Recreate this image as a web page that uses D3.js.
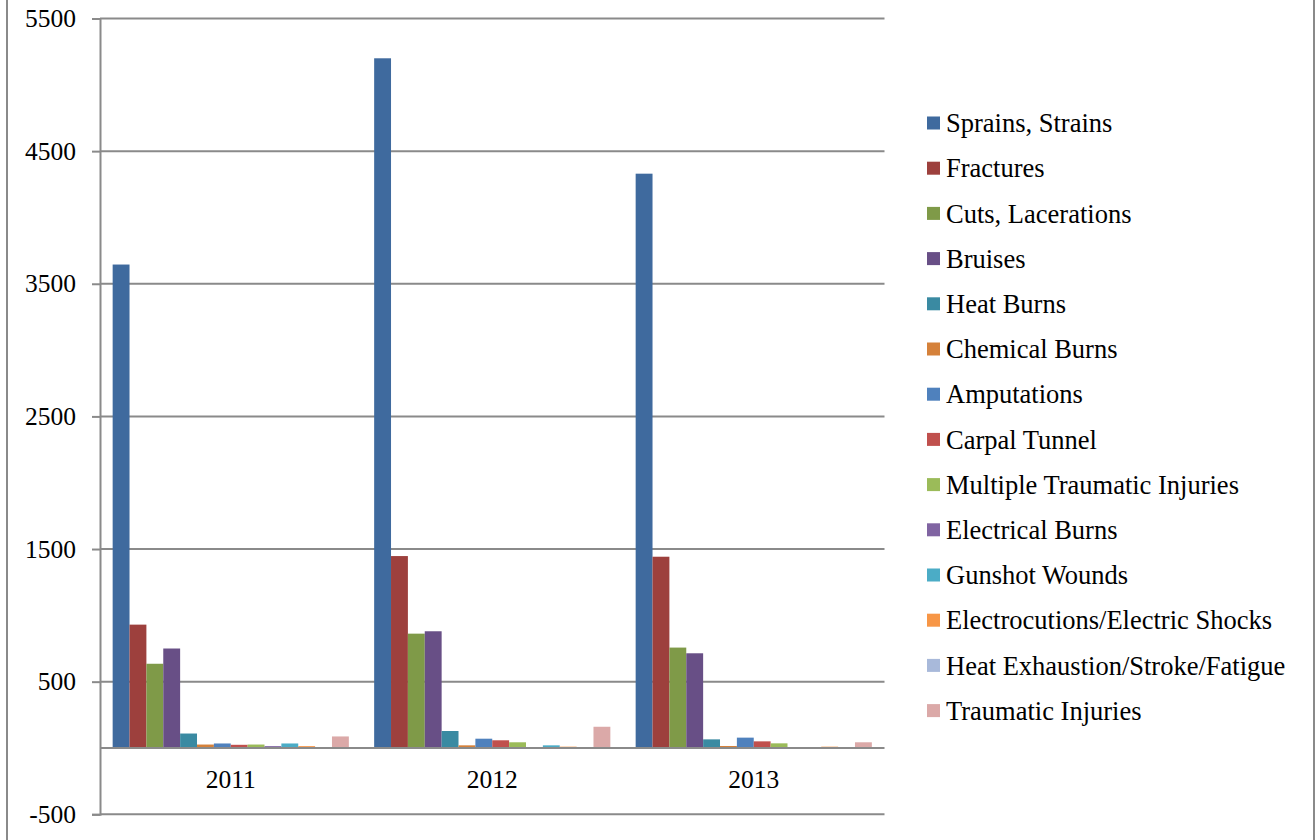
<!DOCTYPE html>
<html>
<head>
<meta charset="utf-8">
<script src="https://cdn.jsdelivr.net/npm/d3@7"></script>
<style>
  body { margin: 0; background: #fff; }
  text { font-family: "Liberation Serif", "Times New Roman", serif; fill: #000; }
</style>
</head>
<body>
<div id="chart"></div>
<script>
// data
const years = ["2011", "2012", "2013"];
const injuryTypes = [
  "Sprains, Strains", "Fractures", "Cuts, Lacerations", "Bruises", "Heat Burns",
  "Chemical Burns", "Amputations", "Carpal Tunnel", "Multiple Traumatic Injuries",
  "Electrical Burns", "Gunshot Wounds", "Electrocutions/Electric Shocks",
  "Heat Exhaustion/Stroke/Fatigue", "Traumatic Injuries"
];
const sprains = [3645, 5200, 4330];
const fractures = [930, 1447, 1442];
const cuts = [635, 862, 757];
const bruises = [750, 880, 714];
const heatBurns = [109, 128, 65];
const chemicalBurns = [26, 20, 15];
const amputations = [34, 70, 78];
const carpalTunnel = [24, 58, 50];
const multipleTraumatic = [26, 43, 35];
const electricalBurns = [14, 0, 2];
const gunshot = [34, 20, 3];
const electrocutions = [14, 10, 10];
const heatExhaustion = [2, 0, 0];
const traumatic = [87, 160, 43];
const yTicks = [5500, 4500, 3500, 2500, 1500, 500, -500];

const seriesValues = [sprains, fractures, cuts, bruises, heatBurns, chemicalBurns,
  amputations, carpalTunnel, multipleTraumatic, electricalBurns, gunshot,
  electrocutions, heatExhaustion, traumatic];

const colors = ["#3f6a9e", "#9d403d", "#7f9a48", "#684f86", "#3a8aa2", "#d5813a",
  "#4f81bd", "#c0504d", "#9bbb59", "#8064a2", "#4bacc6", "#f79646",
  "#a8b9da", "#dba9a8"];

const W = 1315, H = 840;
const plot = { left: 100, right: 884.5, top: 18.5, bottom: 814.3 };
const gridColor = "#8a8a8a";
const fontSize = 25.5;
const legendFontSize = 26.5;

const svg = d3.select("#chart").append("svg")
  .attr("width", W)
  .attr("height", H);

// chart area side borders
svg.append("line").attr("x1", 7).attr("x2", 7).attr("y1", 0).attr("y2", H)
  .attr("stroke", gridColor).attr("stroke-width", 2);
svg.append("line").attr("x1", 1314).attr("x2", 1314).attr("y1", 0).attr("y2", H)
  .attr("stroke", gridColor).attr("stroke-width", 2);

const y = d3.scaleLinear()
  .domain([-500, 5500])
  .range([plot.bottom, plot.top]);

const x0 = d3.scaleBand()
  .domain(years)
  .range([plot.left, plot.right])
  .padding(0);

// Excel gap width 150% -> half a gap on each side of a cluster
const x1 = d3.scaleBand()
  .domain(injuryTypes)
  .range([0, x0.bandwidth()])
  .paddingInner(0)
  .paddingOuter(0.75);

// gridlines
svg.append("g")
  .selectAll("line")
  .data(yTicks)
  .join("line")
  .attr("x1", plot.left)
  .attr("x2", plot.right)
  .attr("y1", (d) => y(d))
  .attr("y2", (d) => y(d))
  .attr("stroke", gridColor)
  .attr("stroke-width", 2);

// bars
const rows = years.map((yr, i) => ({ year: yr, vals: seriesValues.map((s) => s[i]) }));

svg.append("g")
  .selectAll("g")
  .data(rows)
  .join("g")
  .attr("transform", (d) => `translate(${x0(d.year)},0)`)
  .selectAll("rect")
  .data((d) => d.vals.map((v, j) => ({ key: injuryTypes[j], value: v, color: colors[j] })))
  .join("rect")
  .attr("x", (d) => x1(d.key))
  .attr("width", x1.bandwidth())
  .attr("y", (d) => y(Math.max(0, d.value)))
  .attr("height", (d) => Math.abs(y(d.value) - y(0)))
  .attr("fill", (d) => d.color);

// horizontal category axis at zero
svg.append("line")
  .attr("x1", plot.left).attr("x2", plot.right)
  .attr("y1", y(0)).attr("y2", y(0))
  .attr("stroke", gridColor).attr("stroke-width", 2);

svg.append("g")
  .selectAll("text")
  .data(years)
  .join("text")
  .attr("x", (d) => x0(d) + x0.bandwidth() / 2)
  .attr("y", 788)
  .attr("text-anchor", "middle")
  .style("font-size", fontSize + "px")
  .text((d) => d);

// value axis
const yAxis = svg.append("g")
  .attr("transform", `translate(${plot.left},0)`)
  .call(d3.axisLeft(y).tickValues(yTicks).tickSize(8).tickPadding(16).tickFormat((d) => String(d)));
yAxis.select(".domain").attr("stroke", gridColor).attr("stroke-width", 2);
yAxis.selectAll(".tick line").attr("stroke", gridColor).attr("stroke-width", 2);
yAxis.selectAll(".tick text")
  .attr("fill", "#000")
  .style("font-family", "'Liberation Serif', serif")
  .style("font-size", fontSize + "px");

// legend
const legend = svg.append("g")
  .selectAll("g")
  .data(injuryTypes)
  .join("g")
  .attr("transform", (d, i) => `translate(927, ${123 + i * 45.2})`);

legend.append("rect")
  .attr("x", 0)
  .attr("y", -6.5)
  .attr("width", 13)
  .attr("height", 13)
  .attr("fill", (d, i) => colors[i]);

legend.append("text")
  .attr("x", 19)
  .attr("y", 0)
  .attr("dy", "0.35em")
  .style("font-size", legendFontSize + "px")
  .text((d) => d);
</script>
</body>
</html>
